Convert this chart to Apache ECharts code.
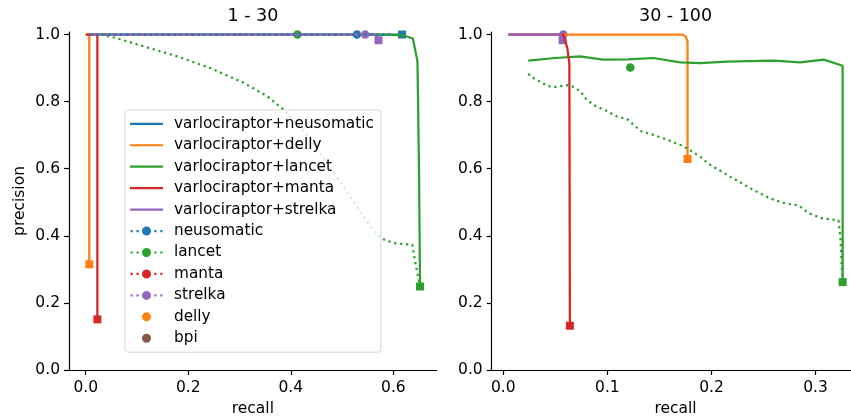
<!DOCTYPE html>
<html><head><meta charset="utf-8">
<script src="https://cdn.jsdelivr.net/npm/echarts@6/dist/echarts.min.js"></script>
<style>html,body{margin:0;padding:0;background:#fff}#c{width:851px;height:419px}</style>
</head><body><div id="c"></div>
<script>
// ---------------- data ----------------
const panelTitles = ['1 - 30', '30 - 100'];
const xTicksLeft = [0, 0.2, 0.4, 0.6];
const xTicksRight = [0, 0.1, 0.2, 0.3];
const yTicks = [0, 0.2, 0.4, 0.6, 0.8, 1.0];

// Left panel (1 - 30): [recall, precision]
const L_vNeusomatic = [[0.009, 1.0], [0.617, 1.0]];
const L_vDelly = [[0.0, 1.0], [0.007, 1.0], [0.007, 0.315]];
const L_vLancet = [[0.009, 1.0], [0.59, 1.0], [0.62, 0.997], [0.638, 0.988], [0.647, 0.92], [0.65, 0.6], [0.652, 0.249]];
const L_vManta = [[0.0, 1.0], [0.0227, 1.0], [0.0227, 0.151]];
const L_vStrelka = [[0.009, 1.0], [0.565, 1.0], [0.571, 0.983]];
const L_neusomatic = [[0.009, 1.0], [0.6, 1.0]];
const L_lancet = [[0.03, 1.0], [0.058, 0.99], [0.1125, 0.965], [0.178, 0.935], [0.243, 0.90], [0.308, 0.856], [0.354, 0.816], [0.386, 0.776], [0.419, 0.722], [0.445, 0.675], [0.471, 0.617], [0.516, 0.517], [0.555, 0.428], [0.575, 0.393], [0.601, 0.378], [0.637, 0.373], [0.643, 0.318], [0.652, 0.249]];
const L_manta = [];
const L_strelka = [[0.009, 1.0], [0.57, 1.0]];
const L_neusomaticPoint = [[0.529, 1.0]];
const L_lancetPoint = [[0.413, 1.0]];
const L_strelkaPoint = [[0.545, 1.0]];
const L_dellyPoint = [];
const L_bpiPoint = [];

// Right panel (30 - 100)
const R_vDelly = [[0.005, 1.0], [0.172, 1.0], [0.175, 0.995], [0.177, 0.98], [0.177, 0.629]];
const R_vLancet = [[0.024, 0.922], [0.05, 0.93], [0.0737, 0.935], [0.096, 0.925], [0.12, 0.926], [0.144, 0.930], [0.170, 0.917], [0.189, 0.915], [0.215, 0.919], [0.26, 0.922], [0.285, 0.917], [0.308, 0.925], [0.326, 0.907], [0.326, 0.262]];
const R_vManta = [[0.005, 1.0], [0.0577, 1.0], [0.0615, 0.96], [0.0635, 0.915], [0.064, 0.132]];
const R_vStrelka = [[0.005, 1.0], [0.055, 1.0], [0.057, 0.983]];
const R_lancet = [[0.024, 0.883], [0.027, 0.874], [0.043, 0.846], [0.050, 0.844], [0.061, 0.849], [0.066, 0.846], [0.074, 0.831], [0.080, 0.806], [0.088, 0.788], [0.098, 0.774], [0.109, 0.756], [0.119, 0.748], [0.125, 0.731], [0.133, 0.711], [0.144, 0.701], [0.157, 0.687], [0.173, 0.667], [0.181, 0.652], [0.191, 0.632], [0.196, 0.617], [0.212, 0.587], [0.226, 0.562], [0.240, 0.537], [0.256, 0.512], [0.269, 0.498], [0.284, 0.490], [0.293, 0.468], [0.305, 0.453], [0.322, 0.446], [0.324, 0.388], [0.325, 0.318], [0.326, 0.262]];
const R_strelka = [[0.005, 1.0], [0.0577, 1.0]];
const R_lancetPoint = [[0.122, 0.902]];
const R_strelkaPoint = [[0.0577, 1.0]];

const legendNames = ['varlociraptor+neusomatic', 'varlociraptor+delly', 'varlociraptor+lancet', 'varlociraptor+manta', 'varlociraptor+strelka', 'neusomatic', 'lancet', 'manta', 'strelka', 'delly', 'bpi'];

// ---------------- styling ----------------
const C = { blue: '#1f77b4', orange: '#ff7f0e', green: '#2ca02c', red: '#d62728', purple: '#9467bd', brown: '#8c564b' };
const FONT = 'DejaVu Sans';
const DOT = [2.25, 3.7];

function line(name, data, color, g, dotted, offset) {
  return {
    type: 'line', name: name, data: data, xAxisIndex: g, yAxisIndex: g,
    symbol: 'none', showSymbol: false, clip: false, silent: true, animation: false,
    lineStyle: { color: color, width: 2.25, type: dotted ? DOT : 'solid', dashOffset: offset || 0, cap: 'butt', join: 'round' },
    itemStyle: { color: color }, emphasis: { disabled: true }
  };
}
function pts(name, data, color, g, sym, size) {
  return {
    type: 'scatter', name: name, data: data, xAxisIndex: g, yAxisIndex: g,
    symbol: sym, symbolSize: size, clip: false, silent: true, animation: false,
    itemStyle: { color: color, opacity: 1 }, emphasis: { disabled: true }
  };
}
function endSq(name, arr, color, g) {
  return pts(name + ' end', [arr[arr.length - 1]], color, g, 'rect', 8);
}

const series = [
  // left panel
  line('varlociraptor+neusomatic', L_vNeusomatic, C.blue, 0), endSq('varlociraptor+neusomatic', L_vNeusomatic, C.blue, 0),
  line('varlociraptor+delly', L_vDelly, C.orange, 0), endSq('varlociraptor+delly', L_vDelly, C.orange, 0),
  line('varlociraptor+lancet', L_vLancet, C.green, 0), endSq('varlociraptor+lancet', L_vLancet, C.green, 0),
  line('varlociraptor+manta', L_vManta, C.red, 0), endSq('varlociraptor+manta', L_vManta, C.red, 0),
  line('varlociraptor+strelka', L_vStrelka, C.purple, 0), endSq('varlociraptor+strelka', L_vStrelka, C.purple, 0),
  line('neusomatic', L_neusomatic, C.blue, 0, true, 0),
  line('lancet', L_lancet, C.green, 0, true, 0),
  line('manta', L_manta, C.red, 0, true, 0),
  line('strelka', L_strelka, C.purple, 0, true, 3),
  pts('lancet pt', L_lancetPoint, C.green, 0, 'circle', 8.5),
  pts('neusomatic pt', L_neusomaticPoint, C.blue, 0, 'circle', 8.5),
  pts('strelka pt', L_strelkaPoint, C.purple, 0, 'circle', 8.5),
  pts('delly', L_dellyPoint, C.orange, 0, 'circle', 8.5),
  pts('bpi', L_bpiPoint, C.brown, 0, 'circle', 8.5),
  // right panel
  line('varlociraptor+delly', R_vDelly, C.orange, 1), endSq('varlociraptor+delly', R_vDelly, C.orange, 1),
  line('varlociraptor+lancet', R_vLancet, C.green, 1), endSq('varlociraptor+lancet', R_vLancet, C.green, 1),
  line('varlociraptor+manta', R_vManta, C.red, 1), endSq('varlociraptor+manta', R_vManta, C.red, 1),
  line('varlociraptor+strelka', R_vStrelka, C.purple, 1), endSq('varlociraptor+strelka', R_vStrelka, C.purple, 1),
  line('lancet', R_lancet, C.green, 1, true, 0),
  line('strelka', R_strelka, C.purple, 1, true, 3),
  pts('lancet pt', R_lancetPoint, C.green, 1, 'circle', 8.5),
  pts('strelka pt', R_strelkaPoint, C.purple, 1, 'circle', 8.5)
];

// legend icons (39 x 14 box; tiny corner marks fix the box)
const corners = 'M0,0h0.01v0.01h-0.01z M38.99,13.99h0.01v0.01h-0.01z ';
const circ = 'M12,7a4.5,4.5 0 1,0 9,0a4.5,4.5 0 1,0 -9,0z';
const ICON_LINE = 'path://' + corners + 'M0,5.9h33v2.2h-33z';
const ICON_DOTLINE = 'path://' + corners + 'M0.5,5.9h2.2v2.2h-2.2z M6.5,5.9h2.2v2.2h-2.2z M24.3,5.9h2.2v2.2h-2.2z M30.3,5.9h2.2v2.2h-2.2z ' + circ;
const ICON_DOT = 'path://' + corners + circ;
const legendData = legendNames.map(function (n, i) {
  return { name: n, icon: i < 5 ? ICON_LINE : (i < 9 ? ICON_DOTLINE : ICON_DOT) };
});

function xAxis(g, min, max, ticks) {
  return {
    type: 'value', gridIndex: g, min: min, max: max,
    axisLine: { show: true, onZero: false, lineStyle: { color: '#000', width: 1.2 } },
    axisTick: { show: true, length: 5, lineStyle: { color: '#000', width: 1.2 }, customValues: ticks },
    axisLabel: { customValues: ticks, formatter: function (v) { return v.toFixed(1); }, fontSize: 15.5, color: '#000', fontFamily: FONT, margin: 10 },
    splitLine: { show: false },
    name: 'recall', nameLocation: 'middle', nameGap: 31,
    nameTextStyle: { fontSize: 15.5, color: '#000', fontFamily: FONT }
  };
}
function yAxis(g, name) {
  return {
    type: 'value', gridIndex: g, min: 0, max: 1.0075,
    axisLine: { show: true, onZero: false, lineStyle: { color: '#000', width: 1.2 } },
    axisTick: { show: true, length: 5, lineStyle: { color: '#000', width: 1.2 }, customValues: yTicks },
    axisLabel: { customValues: yTicks, formatter: function (v) { return v.toFixed(1); }, fontSize: 15.5, color: '#000', fontFamily: FONT, margin: 9 },
    splitLine: { show: false },
    name: name, nameLocation: 'middle', nameGap: 41,
    nameTextStyle: { fontSize: 15.5, color: '#000', fontFamily: FONT }
  };
}

const option = {
  animation: false,
  backgroundColor: '#fff',
  textStyle: { fontFamily: FONT },
  title: [
    { text: panelTitles[0], left: 252.85, top: 7, padding: 0, textAlign: 'center', textStyle: { fontSize: 17.5, fontWeight: 'normal', color: '#000', fontFamily: FONT } },
    { text: panelTitles[1], left: 675.55, top: 7, padding: 0, textAlign: 'center', textStyle: { fontSize: 17.5, fontWeight: 'normal', color: '#000', fontFamily: FONT } }
  ],
  grid: [
    { left: 69, top: 32, width: 367.7, height: 338, containLabel: false, outerBoundsMode: 'none' },
    { left: 491.7, top: 32, width: 367.7, height: 338, containLabel: false, outerBoundsMode: 'none' }
  ],
  xAxis: [xAxis(0, -0.0326, 0.6845, xTicksLeft), xAxis(1, -0.0111, 0.3421, xTicksRight)],
  yAxis: [yAxis(0, 'precision'), yAxis(1, '')],
  legend: {
    orient: 'vertical', left: 125, top: 110, padding: [6.3, 7, 6.4, 5],
    itemWidth: 39, itemHeight: 14, itemGap: 6.45,
    selectedMode: false,
    backgroundColor: 'rgba(255,255,255,0.8)', borderColor: 'rgba(204,204,204,0.8)', borderWidth: 1, borderRadius: 3,
    itemStyle: { borderWidth: 0 },
    textStyle: { fontSize: 15.3, color: '#000', fontFamily: FONT, lineHeight: 14 },
    data: legendData
  },
  series: series
};

const chart = echarts.init(document.getElementById('c'), null, { renderer: 'canvas' });
chart.setOption(option);
</script>
</body></html>
